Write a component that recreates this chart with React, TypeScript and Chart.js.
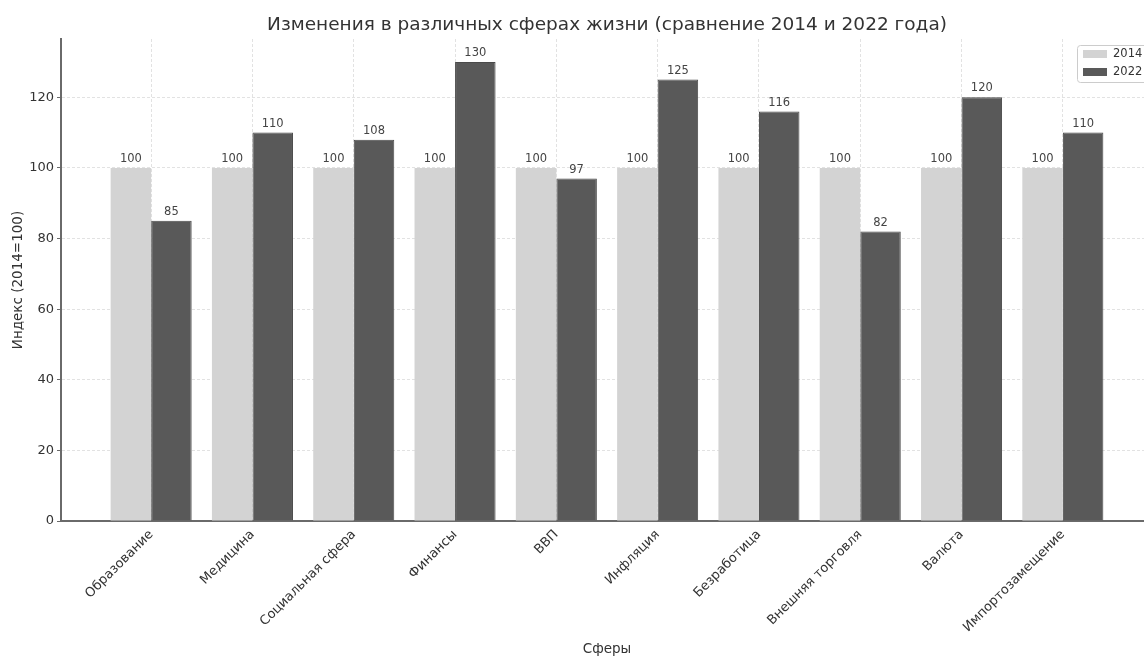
import React, { useEffect, useRef } from "react";
import { Chart, registerables } from "chart.js";

Chart.register(...registerables);

const categories = [
  "Образование",
  "Медицина",
  "Социальная сфера",
  "Финансы",
  "ВВП",
  "Инфляция",
  "Безработица",
  "Внешняя торговля",
  "Валюта",
  "Импортозамещение",
];
const values2014 = [100, 100, 100, 100, 100, 100, 100, 100, 100, 100];
const values2022 = [85, 110, 108, 130, 97, 125, 116, 82, 120, 110];
const seriesLabels = ["2014", "2022"];
const yTicks = [0, 20, 40, 60, 80, 100, 120];

const titleText = "Изменения в различных сферах жизни (сравнение 2014 и 2022 года)";
const xTitle = "Сферы";
const yTitle = "Индекс (2014=100)";

const FONT = "'DejaVu Sans', sans-serif";
const LIGHT = "#d3d3d3";
const DARK = "#595959";

const CANVAS_W = 1170;
const CANVAS_H = 657;

export default function App() {
  const ref = useRef<HTMLCanvasElement | null>(null);

  useEffect(() => {
    document.body.style.margin = "0";
    const canvas = ref.current;
    if (!canvas) return;

    const textPlugin = {
      id: "texts",
      afterDatasetsDraw(chart: any) {
        const ctx = chart.ctx;
        ctx.save();
        ctx.font = `11.5px ${FONT}`;
        ctx.fillStyle = "#444";
        ctx.textAlign = "center";
        ctx.textBaseline = "bottom";
        chart.data.datasets.forEach((ds: any, di: number) => {
          const meta = chart.getDatasetMeta(di);
          meta.data.forEach((el: any, i: number) => {
            ctx.fillText(String(ds.data[i].y), el.x, el.y - 3);
          });
        });
        ctx.restore();
      },
      afterDraw(chart: any) {
        const ctx = chart.ctx;
        const ca = chart.chartArea;
        const cx = (ca.left + ca.right) / 2;
        ctx.save();
        ctx.fillStyle = "#333";
        ctx.textAlign = "center";
        ctx.textBaseline = "middle";
        ctx.font = `18.5px ${FONT}`;
        ctx.fillText(titleText, cx, 25);
        ctx.font = `13.5px ${FONT}`;
        ctx.fillText(xTitle, cx, 649);
        ctx.save();
        ctx.translate(18, (ca.top + ca.bottom) / 2);
        ctx.rotate(-Math.PI / 2);
        ctx.fillText(yTitle, 0, 0);
        ctx.restore();
        // legend
        const lx = 1077;
        const ly = 45;
        ctx.fillStyle = "rgba(255,255,255,0.9)";
        ctx.strokeStyle = "#cccccc";
        ctx.lineWidth = 1;
        ctx.beginPath();
        (ctx as any).roundRect(lx + 0.5, ly + 0.5, 90, 37, 3);
        ctx.fill();
        ctx.stroke();
        const colors = [LIGHT, DARK];
        ctx.font = `11.5px ${FONT}`;
        ctx.textAlign = "left";
        seriesLabels.forEach((lab, i) => {
          const yy = ly + 9 + i * 18;
          ctx.fillStyle = colors[i];
          ctx.fillRect(lx + 6, yy - 4, 24, 8);
          ctx.fillStyle = "#333";
          ctx.fillText(lab, lx + 36, yy);
        });
        ctx.restore();
      },
    };

    const chart = new Chart(canvas, {
      type: "bar",
      data: {
        datasets: [
          {
            label: seriesLabels[0],
            data: values2014.map((v, i) => ({ x: i, y: v })),
            backgroundColor: LIGHT,
            borderWidth: 0,
            categoryPercentage: 0.8,
            barPercentage: 1.0,
          },
          {
            label: seriesLabels[1],
            data: values2022.map((v, i) => ({ x: i, y: v })),
            backgroundColor: DARK,
            borderColor: "#4a4a4a",
            borderWidth: 1,
            categoryPercentage: 0.8,
            barPercentage: 1.0,
          },
        ] as any,
      },
      options: {
        animation: false,
        responsive: false,
        maintainAspectRatio: false,
        layout: { padding: { left: 0, right: CANVAS_W - 1153, top: 39, bottom: 0 } },
        plugins: {
          legend: { display: false },
          title: { display: false },
          tooltip: { enabled: false },
        },
        scales: {
          x: {
            type: "linear",
            offset: false,
            min: -0.89,
            max: 9.89,
            afterBuildTicks(scale: any) {
              scale.ticks = categories.map((_, i) => ({ value: i }));
            },
            afterFit(scale: any) {
              scale.height = CANVAS_H - 521;
            },
            ticks: {
              autoSkip: false,
              minRotation: 45,
              maxRotation: 45,
              padding: 2,
              color: "#333",
              font: { family: FONT, size: 13 },
              callback: (v: any) => categories[Math.round(Number(v))] ?? "",
            },
            grid: {
              offset: false,
              color: "#e2e2e2",
              lineWidth: 1,
              drawTicks: true,
              tickLength: 4,
              tickColor: "rgba(0,0,0,0)",
            },
            border: { display: true, color: "#6a6a6a", width: 2, dash: [3, 2] },
          },
          y: {
            type: "linear",
            min: 0,
            max: 136.5,
            afterBuildTicks(scale: any) {
              scale.ticks = yTicks.map((v) => ({ value: v }));
            },
            afterFit(scale: any) {
              scale.width = 61;
            },
            ticks: {
              padding: 3,
              color: "#333",
              font: { family: FONT, size: 13 },
              callback: (v: any) => String(v),
            },
            grid: {
              color: "#e2e2e2",
              lineWidth: 1,
              drawTicks: true,
              tickLength: 4,
              tickColor: "#6a6a6a",
            },
            border: { display: true, color: "#6a6a6a", width: 2, dash: [3, 2] },
          },
        },
      } as any,
      plugins: [textPlugin],
    });

    return () => chart.destroy();
  }, []);

  return (
    <div style={{ width: 1144, height: CANVAS_H, overflow: "hidden", background: "#fff" }}>
      <canvas ref={ref} width={CANVAS_W} height={CANVAS_H} style={{ display: "block", width: CANVAS_W, height: CANVAS_H }} />
    </div>
  );
}
